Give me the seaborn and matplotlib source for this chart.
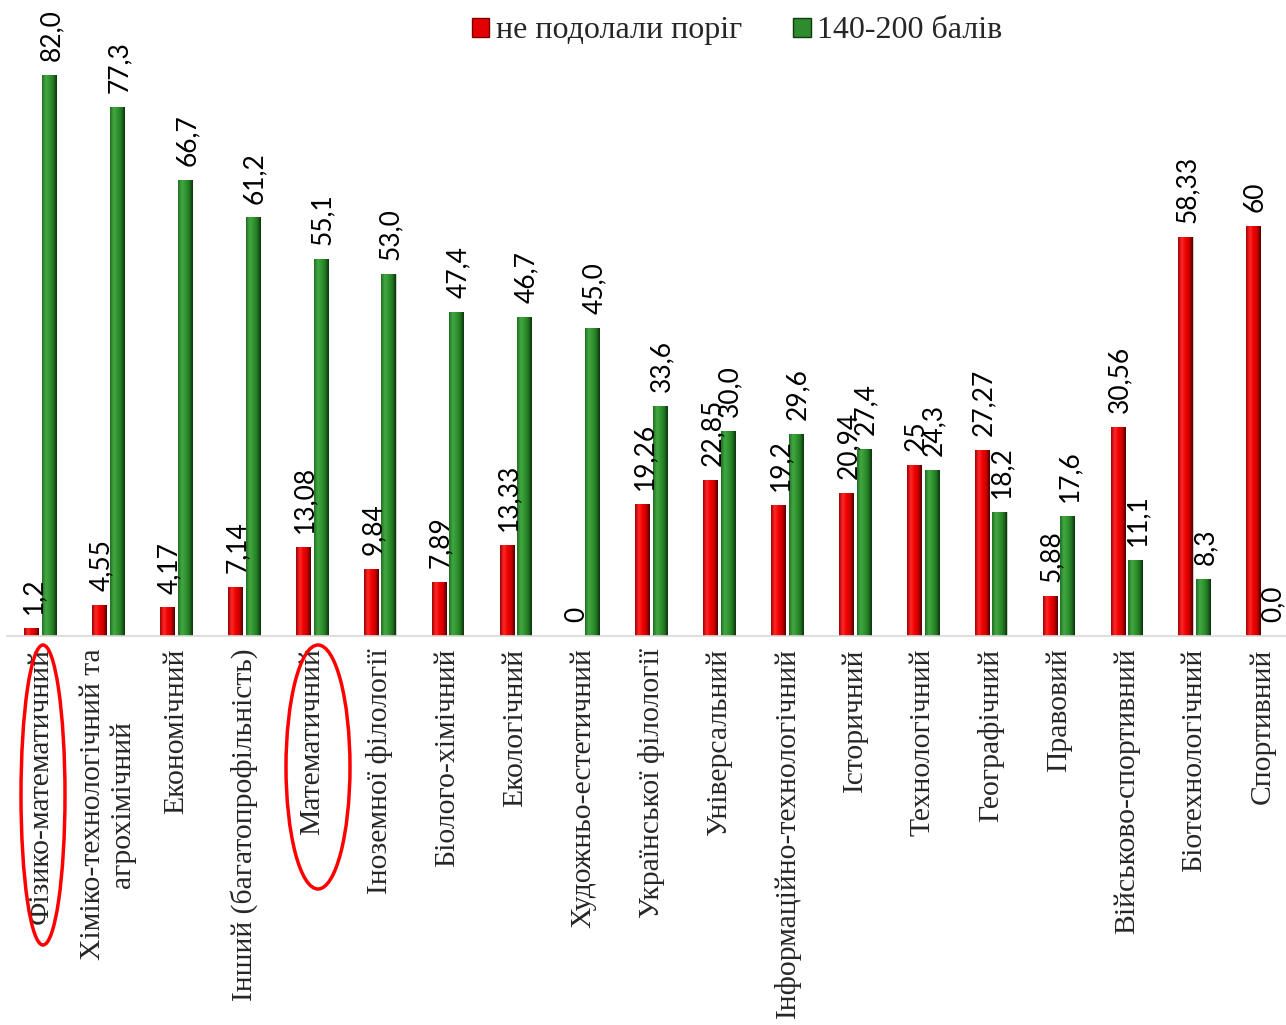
import numpy as np
import pandas as pd
import seaborn as sns
import matplotlib
matplotlib.use("Agg")
import matplotlib.pyplot as plt
from matplotlib.patches import Ellipse, Patch
from matplotlib.colors import LinearSegmentedColormap

categories = [
    "Фізико-математичний",
    "Хіміко-технологічний та\nагрохімічний",
    "Економічний",
    "Інший (багатопрофільність)",
    "Математичний",
    "Іноземної філології",
    "Біолого-хімічний",
    "Екологічний",
    "Художньо-естетичний",
    "Української філології",
    "Універсальний",
    "Інформаційно-технологічний",
    "Історичний",
    "Технологічний",
    "Географічний",
    "Правовий",
    "Військово-спортивний",
    "Біотехнологічний",
    "Спортивний",
]
series_names = ["не подолали поріг", "140-200 балів"]
fail_values = [1.2, 4.55, 4.17, 7.14, 13.08, 9.84, 7.89, 13.33, 0, 19.26,
               22.85, 19.2, 20.94, 25, 27.27, 5.88, 30.56, 58.33, 60]
fail_labels = ["1,2", "4,55", "4,17", "7,14", "13,08", "9,84", "7,89", "13,33", "0",
               "19,26", "22,85", "19,2", "20,94", "25", "27,27", "5,88", "30,56",
               "58,33", "60"]
top_values = [82.0, 77.3, 66.7, 61.2, 55.1, 53.0, 47.4, 46.7, 45.0, 33.6,
              30.0, 29.6, 27.4, 24.3, 18.2, 17.6, 11.1, 8.3, 0.0]
top_labels = ["82,0", "77,3", "66,7", "61,2", "55,1", "53,0", "47,4", "46,7", "45,0",
              "33,6", "30,0", "29,6", "27,4", "24,3", "18,2", "17,6", "11,1", "8,3", "0,0"]

RED = "#E50000"
GREEN = "#2E8B2E"

df = pd.DataFrame({
    "cat": categories * 2,
    "series": [series_names[0]] * len(categories) + [series_names[1]] * len(categories),
    "value": fail_values + top_values,
})

sns.set_theme(style="white")
plt.rcParams["font.family"] = ["Lato", "DejaVu Sans"]

fig = plt.figure(figsize=(12.86, 10.25), dpi=100)
ax = fig.add_axes([7 / 1286, 1 - 636 / 1025, 1 - 7 / 1286, 636 / 1025])

sns.barplot(data=df, x="cat", y="value", hue="series", hue_order=series_names,
            palette=[RED, GREEN], width=0.52, gap=0.2, legend=False, ax=ax,
            edgecolor="#cfcfcf", linewidth=0.6)

# bevel-like shading on each bar
cmaps = {
    RED: LinearSegmentedColormap.from_list(
        "r", ["#a00000", "#ff2a2a", "#f00000", "#d00000", "#4a0000"]),
    GREEN: LinearSegmentedColormap.from_list(
        "g", ["#1f6e1f", "#45a845", "#2f962f", "#237a23", "#0b300b"]),
}
grad = np.linspace(0, 1, 64).reshape(1, -1)
n = len(categories)
for i, patch in enumerate(ax.patches[: 2 * n]):
    col = RED if i < n else GREEN
    x, w, h = patch.get_x(), patch.get_width(), patch.get_height()
    if h <= 0:
        continue
    im = ax.imshow(grad, cmap=cmaps[col], aspect="auto",
                   extent=[x, x + w, 0, h], zorder=patch.get_zorder() + 0.1,
                   interpolation="bicubic")
    im.set_clip_path(patch)

ax.set_xlim(-0.49, 18.35)
ax.set_ylim(0, 93)

# value labels
for i, patch in enumerate(ax.patches[: 2 * n]):
    lab = fail_labels[i] if i < n else top_labels[i - n]
    xc = patch.get_x() + patch.get_width() / 2
    h = patch.get_height()
    ax.annotate(lab, (xc, h), xytext=(1.5, 10), textcoords="offset points",
                rotation=90, ha="center", va="bottom", fontsize=19,
                color="black", family=["Lato", "DejaVu Sans"], zorder=5)

ax.set_xlabel("")
ax.set_ylabel("")
ax.set_yticks([])
ax.tick_params(axis="x", length=0, pad=9)
ax.set_xticks(range(n))
ax.set_xticklabels(categories, rotation=90, ha="center", va="top",
                   fontsize=21.3, family=["Liberation Serif", "DejaVu Serif"],
                   multialignment="center")
for s in ["top", "left", "right"]:
    ax.spines[s].set_visible(False)
ax.spines["bottom"].set_color("#d9d9d9")
ax.spines["bottom"].set_linewidth(1.2)

handles = [Patch(facecolor=RED, edgecolor="#7a0000"), Patch(facecolor=GREEN, edgecolor="#0d3a0d")]
fig.legend(handles, series_names, loc="upper center", bbox_to_anchor=(0.573, 1.012),
           ncol=2, frameon=False, prop={"family": "Liberation Serif", "size": 23},
           handlelength=0.55, handleheight=0.55, handletextpad=0.2, columnspacing=1.6)

# red ellipses highlighting categories (figure pixel coordinates)
for (cx, cy, ew, eh) in [(43, 795, 44, 300), (318, 767, 64, 244)]:
    e = Ellipse((cx / 1286, 1 - cy / 1025), ew / 1286, eh / 1025,
                transform=fig.transFigure, fill=False, edgecolor="#ff0000",
                linewidth=2.5, zorder=10)
    fig.add_artist(e)

fig.savefig("out.png", dpi=100)
